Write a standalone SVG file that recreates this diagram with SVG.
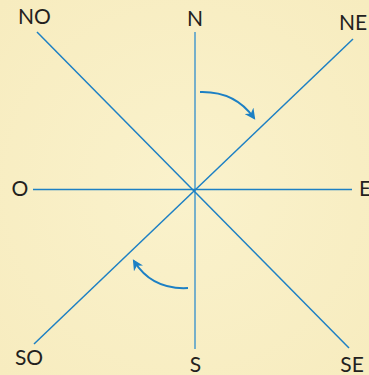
<svg xmlns="http://www.w3.org/2000/svg" width="369" height="375" viewBox="0 0 369 375">
<style>
.ax{stroke:#1d80c4;stroke-width:1.5;fill:none}
.v{stroke:#4a9acb}
.lbl{font-family:Lato,"Open Sans",sans-serif;font-size:21px;fill:#231f20}
.arc{stroke:#1d80c4;stroke-width:2;fill:none}
</style>
<defs>
<marker id="ah" viewBox="0 0 10 10" refX="8" refY="5" markerWidth="11" markerHeight="11" markerUnits="userSpaceOnUse" orient="auto">
<path d="M0,0 L10,5 L0,10 L3,5 Z" fill="#1d80c4"/>
</marker>
<radialGradient id="bg" cx="50%" cy="50%" r="70%">
<stop offset="0" stop-color="#faf2cc"/>
<stop offset="1" stop-color="#f7ecbf"/>
</radialGradient>
</defs>
<rect width="369" height="375" fill="url(#bg)"/>
<g id="connectors">
<line class="ax v" x1="195" y1="32" x2="195" y2="349"/>
<line class="ax" x1="33" y1="189.5" x2="352" y2="189.5"/>
<line class="ax" x1="37" y1="32" x2="349" y2="348"/>
<line class="ax" x1="353" y1="39" x2="34" y2="344"/>
<path class="arc" d="M200,92 Q235,91 254,118" marker-end="url(#ah)"/>
<path class="arc" d="M188,288 Q152,290 134,261" marker-end="url(#ah)"/>
</g>
<g id="N"><text class="lbl" x="195" y="26" text-anchor="middle">N</text></g>
<g id="NE"><text class="lbl" x="353" y="30" text-anchor="middle">NE</text></g>
<g id="E"><text class="lbl" x="359" y="196">E</text></g>
<g id="SE"><text class="lbl" x="352" y="372" text-anchor="middle">SE</text></g>
<g id="S"><text class="lbl" x="195.5" y="372" text-anchor="middle">S</text></g>
<g id="SO"><text class="lbl" x="29" y="365" text-anchor="middle">SO</text></g>
<g id="O"><text class="lbl" x="20" y="196" text-anchor="middle">O</text></g>
<g id="NO"><text class="lbl" x="34.5" y="24" text-anchor="middle">NO</text></g>
</svg>
